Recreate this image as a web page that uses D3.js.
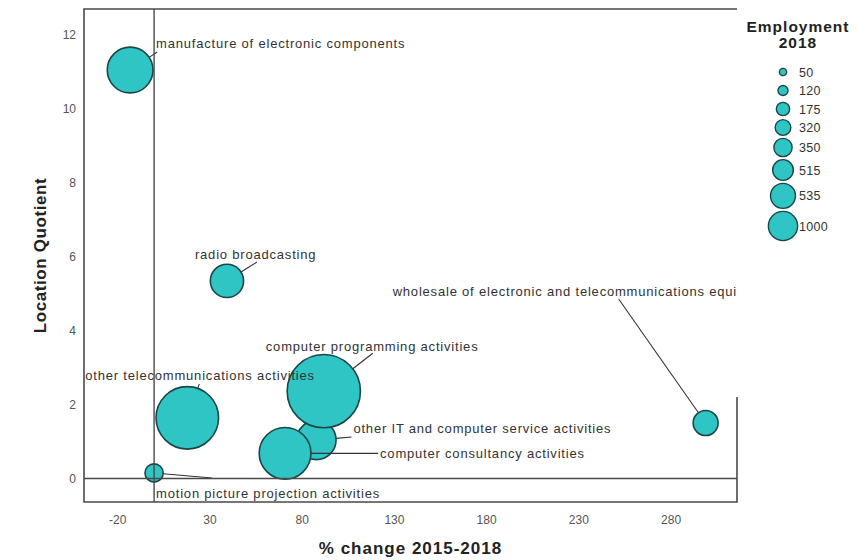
<!DOCTYPE html>
<html>
<head>
<meta charset="utf-8">
<script src="https://cdn.jsdelivr.net/npm/d3@7"></script>
<style>
  html, body { margin: 0; padding: 0; background: #fff; }
  svg { display: block; font-family: "Liberation Sans", Arial, sans-serif; }
</style>
</head>
<body>
<svg id="chart" width="858" height="560"></svg>
<script>
// ---------------- DATA ----------------
const categories = [
  "manufacture of electronic components",
  "radio broadcasting",
  "wholesale of electronic and telecommunications equipment",
  "computer programming activities",
  "other telecommunications activities",
  "other IT and computer service activities",
  "computer consultancy activities",
  "motion picture projection activities"
];
const pctChange        = [-13, 39.5, 299, 92, 18, 88, 71, 0];
const locationQuotient = [11.04, 5.34, 1.5, 2.36, 1.64, 1.04, 0.68, 0.15];
const employment       = [350, 175, 120, 1000, 535, 320, 515, 50];

const xTicks = [-20, 30, 80, 130, 180, 230, 280];
const yTicks = [0, 2, 4, 6, 8, 10, 12];
const legendValues = [50, 120, 175, 320, 350, 515, 535, 1000];

// ---------------- LAYOUT / STYLE ----------------
const plot = { left: 84, top: 9, right: 737, bottom: 502 };
const legendRadii = [3.65, 5, 6.65, 7.85, 9.15, 10.35, 12.5, 14.65]; // legend symbol sizes (SPSS)
const chartSizeFactor = 2.5;
// label placement relative to bubble centre (pixels): text anchor and leader-line end
const labelLayout = [
  { tx: 26,   ty: -22,  lx: 27,  ly: -18 },
  { tx: -32,  ty: -22,  lx: 30,  ly: -19 },
  { tx: -313, ty: -127, lx: -87, ly: -124 },
  { tx: -58,  ty: -40,  lx: 49,  ly: -38 },
  { tx: -102, ty: -38,  lx: 12,  ly: -34 },
  { tx: 37,   ty: -7,   lx: 35,  ly: -3 },
  { tx: 95,   ty: 4.5,  lx: 93,  ly: 0 },
  { tx: 2,    ty: 25,   lx: 58,  ly: 5 }
];
const fillColor = "#30c5c5";
const strokeColor = "#1b4646";
const frameColor = "#4a4a4a";

// ---------------- SCALES ----------------
const x = d3.scaleLinear().domain([-38, 316]).range([plot.left, plot.right]);
const y = d3.scaleLinear().domain([-0.635, 12.69]).range([plot.bottom, plot.top]);
const legendSize = d3.scaleLinear().domain(legendValues).range(legendRadii);
const size = v => legendSize(v) * chartSizeFactor;

const svg = d3.select("#chart");

svg.append("defs").append("clipPath").attr("id", "plotClip")
  .append("rect")
  .attr("x", plot.left).attr("y", plot.top)
  .attr("width", plot.right - plot.left).attr("height", plot.bottom - plot.top);

const data = categories.map((c, i) => ({
  name: c, xv: pctChange[i], yv: locationQuotient[i], emp: employment[i], lay: labelLayout[i]
}));

const g = svg.append("g").attr("clip-path", "url(#plotClip)");

// bubbles (smaller first)
const sorted = data.slice().sort((a, b) => a.emp - b.emp);
g.selectAll("circle.bubble").data(sorted).join("circle")
  .attr("class", "bubble")
  .attr("cx", d => x(d.xv)).attr("cy", d => y(d.yv))
  .attr("r", d => size(d.emp))
  .attr("fill", fillColor).attr("stroke", strokeColor).attr("stroke-width", 1.6);

// leader lines
g.selectAll("line.leader").data(data).join("line")
  .attr("class", "leader")
  .each(function(d) {
    const cx = x(d.xv), cy = y(d.yv), r = size(d.emp);
    const dx = d.lay.lx, dy = d.lay.ly;
    const len = Math.sqrt(dx * dx + dy * dy);
    d3.select(this)
      .attr("x1", cx + dx / len * r).attr("y1", cy + dy / len * r)
      .attr("x2", cx + dx).attr("y2", cy + dy);
  })
  .attr("stroke", "#333").attr("stroke-width", 1.1);

// labels
g.selectAll("text.lbl").data(data).join("text")
  .attr("class", "lbl")
  .attr("x", d => x(d.xv) + d.lay.tx)
  .attr("y", d => y(d.yv) + d.lay.ty)
  .attr("font-size", 13).attr("letter-spacing", 0.8)
  .attr("fill", "#333")
  .text(d => d.name);

// reference lines at x=0 and y=0
svg.append("line")
  .attr("x1", x(0)).attr("x2", x(0)).attr("y1", plot.top).attr("y2", plot.bottom)
  .attr("stroke", frameColor).attr("stroke-width", 1.4);
svg.append("line")
  .attr("x1", plot.left).attr("x2", plot.right).attr("y1", y(0)).attr("y2", y(0))
  .attr("stroke", frameColor).attr("stroke-width", 1.4);

// frame
const frame = svg.append("g").attr("stroke", frameColor).attr("stroke-width", 1.6).attr("fill", "none");
frame.append("path").attr("d",
  `M${plot.right},${plot.top}H${plot.left}V${plot.bottom}H${plot.right}V${397}`);

// axes (labels only, no tick marks)
const fmt = d => String(d);
const xAxis = d3.axisBottom(x).tickValues(xTicks).tickSize(0).tickPadding(13).tickFormat(fmt);
const xg = svg.append("g").attr("transform", `translate(0,${plot.bottom})`).call(xAxis);
xg.select(".domain").remove();
xg.selectAll("text").attr("font-size", 12).attr("fill", "#555").attr("font-family", "Liberation Sans, Arial, sans-serif");

const yAxis = d3.axisLeft(y).tickValues(yTicks).tickSize(0).tickPadding(8).tickFormat(fmt);
const yg = svg.append("g").attr("transform", `translate(${plot.left},0)`).call(yAxis);
yg.select(".domain").remove();
yg.selectAll("text").attr("font-size", 12).attr("fill", "#555").attr("font-family", "Liberation Sans, Arial, sans-serif");

// axis titles
svg.append("text")
  .attr("x", (plot.left + plot.right) / 2).attr("y", 554)
  .attr("text-anchor", "middle").attr("font-size", 17).attr("font-weight", "bold")
  .attr("letter-spacing", 1).attr("fill", "#222")
  .text("% change 2015-2018");
svg.append("text")
  .attr("transform", `translate(46,${(plot.top + plot.bottom) / 2}) rotate(-90)`)
  .attr("text-anchor", "middle").attr("font-size", 17).attr("font-weight", "bold")
  .attr("letter-spacing", 0.6).attr("fill", "#222")
  .text("Location Quotient");

// legend
const lg = svg.append("g");
lg.append("text").attr("x", 798).attr("y", 32).attr("text-anchor", "middle")
  .attr("font-size", 15.5).attr("font-weight", "bold").attr("letter-spacing", 1).attr("fill", "#222")
  .text("Employment");
lg.append("text").attr("x", 798).attr("y", 48).attr("text-anchor", "middle")
  .attr("font-size", 15.5).attr("font-weight", "bold").attr("letter-spacing", 1).attr("fill", "#222")
  .text("2018");

let cy = 72;
legendValues.forEach((v, i) => {
  if (i > 0) {
    const step = Math.max(18.5, legendSize(legendValues[i - 1]) + legendSize(v) + 3);
    cy += step;
  }
  lg.append("circle").attr("cx", 783).attr("cy", cy).attr("r", legendSize(v))
    .attr("fill", fillColor).attr("stroke", strokeColor).attr("stroke-width", 1.4);
  lg.append("text").attr("x", 799).attr("y", cy + 4.5)
    .attr("font-size", 12.5).attr("letter-spacing", 0.3).attr("fill", "#333")
    .text(v);
});
</script>
</body>
</html>
